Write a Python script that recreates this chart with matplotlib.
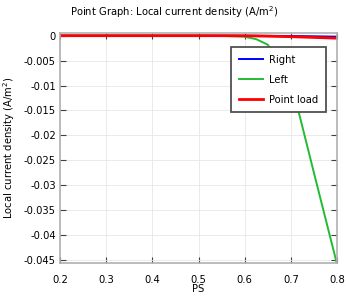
import matplotlib
matplotlib.use("Agg")
import matplotlib.pyplot as plt
from matplotlib.ticker import FixedLocator, FuncFormatter

ps = [0.2, 0.25, 0.3, 0.35, 0.4, 0.45, 0.5, 0.55, 0.6, 0.625, 0.65, 0.7, 0.75, 0.8]
right = [0, 0, 0, 0, 0, 0, 0, 0, -0.00001, -0.00002, -0.00003, -0.00006, -0.00012, -0.0002]
left = [0, 0, 0, 0, 0, 0, -0.00001, -0.00004, -0.0002, -0.0007, -0.0018, -0.009, -0.0275, -0.0458]
point_load = [0, 0, 0, 0, 0, 0, 0, 0, -0.00002, -0.00005, -0.0001, -0.0002, -0.00035, -0.0005]

xticks = [0.2, 0.3, 0.4, 0.5, 0.6, 0.7, 0.8]
yticks = [0, -0.005, -0.01, -0.015, -0.02, -0.025, -0.03, -0.035, -0.04, -0.045]

plt.rcParams['font.family'] = ['DejaVu Sans']
fig = plt.figure(figsize=(3.48, 3.01), dpi=100)
ax = fig.add_axes([60/348, 1-262.7/301, 277/348, 229.4/301])

ax.plot(ps, right, color='#0000ff', lw=1.4, label='Right')
ax.plot(ps, left, color='#22bb33', lw=1.4, label='Left')
ax.plot(ps, point_load, color='#ff0000', lw=2.0, label='Point load')

ax.set_xlim(0.2, 0.8)
ax.set_ylim(-0.04554, 0.00048)
ax.xaxis.set_major_locator(FixedLocator(xticks))
ax.yaxis.set_major_locator(FixedLocator(yticks))
fmt = FuncFormatter(lambda v, p: ('%g' % round(v, 4)).replace('\u2212', '-') if abs(v) > 1e-12 else '0')
ax.xaxis.set_major_formatter(fmt)
ax.yaxis.set_major_formatter(fmt)
ax.tick_params(direction='in', length=4, width=0.8, color='#404040', labelsize=7.2, top=True, right=True, pad=3)
ax.tick_params(axis='x', pad=8.5)
ax.grid(True, color='#e6e6e6', lw=0.6)
ax.set_axisbelow(True)
for s in ax.spines.values():
    s.set_color('#b0b0b0')
    s.set_linewidth(1.2)

fig.text(174.5/348, 1-12/301, 'Point Graph: Local current density (A/m$^2$)', ha='center', va='center', fontsize=7.2)
ax.set_xlabel('PS', fontsize=7.2, labelpad=-0.5)
ax.set_ylabel('Local current density (A/m$^2$)', fontsize=7.2)
ax.yaxis.set_label_coords(-(60-16.5)/277, 0.5)

leg = ax.legend(loc='upper right', bbox_to_anchor=(0.959, 0.939), borderaxespad=0,
                fontsize=7.2, handlelength=2.4, labelspacing=1.0, fancybox=False,
                framealpha=1, edgecolor='#505050', borderpad=0.75, handletextpad=0.6)
leg.get_frame().set_linewidth(1.3)

fig.savefig('out.png', dpi=100)
